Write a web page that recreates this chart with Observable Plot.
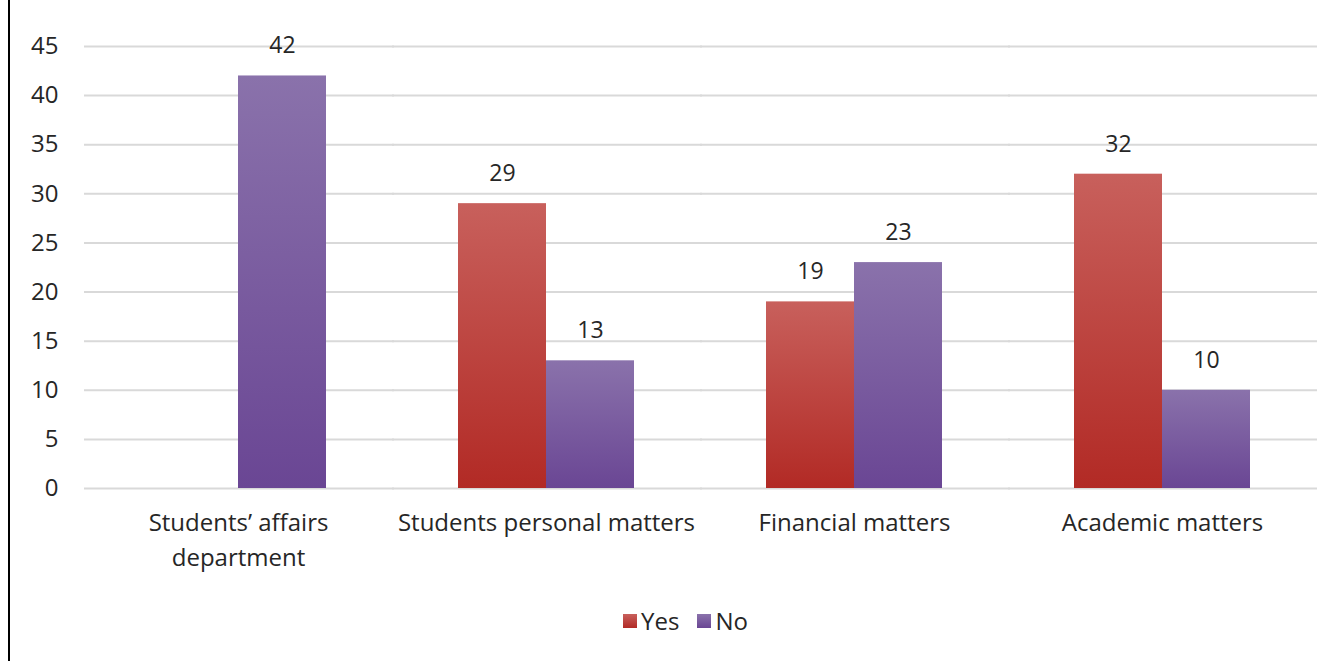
<!DOCTYPE html>
<html>
<head>
<meta charset="utf-8">
<script src="https://cdn.jsdelivr.net/npm/d3@7"></script>
<script src="https://cdn.jsdelivr.net/npm/@observablehq/plot@0.6"></script>
<style>
  html, body { margin: 0; padding: 0; background: #fff; width: 1317px; height: 661px; overflow: hidden; }
  #frame { position: absolute; left: 8px; top: 0; width: 2px; height: 661px; background: #000; }
  #chart { position: absolute; left: 0; top: 0; }
  #legend { position: absolute; top: 604px; left: 0; width: 1317px; display: flex; justify-content: center; gap: 18px;
            font-family: "Open Sans", sans-serif; font-size: 24px; color: #262626; padding-left: 54px; box-sizing: border-box; }
  .item { display: flex; align-items: center; gap: 4px; }
  .sw { width: 14px; height: 14px; display: inline-block; }
</style>
</head>
<body>
<div id="chart"></div>
<div id="frame"></div>
<div id="legend">
  <span class="item"><span class="sw" style="background: linear-gradient(#c8605c, #b22a25)"></span>Yes</span>
  <span class="item"><span class="sw" style="background: linear-gradient(#8a72ab, #6a4694)"></span>No</span>
</div>
<script>
const categories = ["Students’ affairs department", "Students personal matters", "Financial matters", "Academic matters"];
const categoryLabels = ["Students’ affairs\ndepartment", "Students personal matters", "Financial matters", "Academic matters"];
const series = ["Yes", "No"];
const yesValues = [0, 29, 19, 32];
const noValues = [42, 13, 23, 10];
const yTicks = [0, 5, 10, 15, 20, 25, 30, 35, 40, 45];

const data = [];
categories.forEach((c, i) => {
  data.push({category: c, series: "Yes", value: yesValues[i]});
  data.push({category: c, series: "No", value: noValues[i]});
});
const labelData = categories.map((c, i) => ({category: c, label: categoryLabels[i]}));

const plot = Plot.plot({
  width: 1317,
  height: 590,
  marginTop: 46,
  marginBottom: 102,
  marginLeft: 82,
  marginRight: 0,
  style: {fontFamily: "'Open Sans', sans-serif", fontSize: "24px", color: "#262626", background: "transparent", overflow: "visible"},
  fx: {domain: categories, padding: 0, axis: null},
  x: {domain: series, paddingInner: 0, paddingOuter: 0.736, axis: null},
  y: {domain: [0, 45], ticks: yTicks, label: null, tickSize: 0, tickPadding: 26, tickFormat: d => String(d)},
  marks: [
    Plot.ruleY(yTicks, {stroke: "#d9d9d9", strokeWidth: 2, insetRight: -2}),
    Plot.barY(data.filter(d => d.series === "Yes"), {fx: "category", x: "series", y: "value", fill: "url(#gradYes)", inset: 0}),
    Plot.barY(data.filter(d => d.series === "No"), {fx: "category", x: "series", y: "value", fill: "url(#gradNo)", inset: 0}),
    Plot.text(data.filter(d => d.value > 0), {fx: "category", x: "series", y: "value", text: d => String(d.value), dy: -30, fill: "#262626", fontSize: 23}),
    Plot.text(labelData, {fx: "category", text: "label", frameAnchor: "bottom", lineAnchor: "top", dy: 18, lineHeight: 1.46, fill: "#262626", fontSize: 24})
  ]
});

const svgNS = "http://www.w3.org/2000/svg";
const defs = document.createElementNS(svgNS, "defs");
defs.innerHTML = `
  <linearGradient id="gradYes" x1="0" y1="0" x2="0" y2="1">
    <stop offset="0" stop-color="#c8605c"/><stop offset="1" stop-color="#b22a25"/>
  </linearGradient>
  <linearGradient id="gradNo" x1="0" y1="0" x2="0" y2="1">
    <stop offset="0" stop-color="#8a72ab"/><stop offset="1" stop-color="#6a4694"/>
  </linearGradient>`;
plot.insertBefore(defs, plot.firstChild);
document.getElementById("chart").appendChild(plot);
</script>
</body>
</html>
